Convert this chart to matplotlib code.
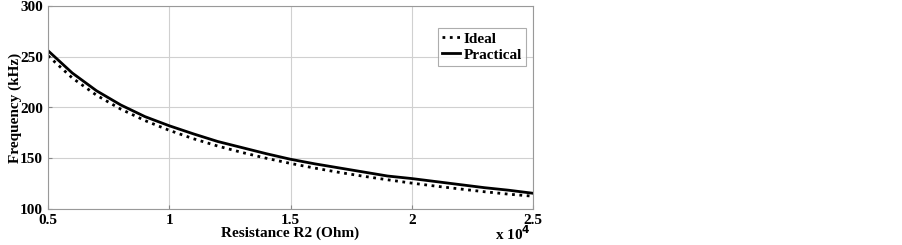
import matplotlib
matplotlib.use("Agg")
import matplotlib.pyplot as plt
from matplotlib.ticker import FuncFormatter

resistance = [5000, 6000, 7000, 8000, 9000, 10000, 11000, 12000, 13000, 14000, 15000,
              16000, 17000, 18000, 19000, 20000, 21000, 22000, 23000, 24000, 25000]
ideal = [251.0, 229.1, 212.1, 198.4, 187.1, 177.5, 169.2, 162.0, 155.7, 150.0, 144.9,
         140.3, 136.1, 132.3, 128.8, 125.5, 122.5, 119.7, 117.0, 114.6, 112.6]
practical = [256.0, 234.0, 216.5, 202.5, 191.0, 182.0, 174.0, 166.5, 160.5, 154.5, 149.0,
             144.5, 140.5, 136.5, 132.5, 130.0, 127.0, 124.0, 121.0, 118.5, 115.5]
xticks = [5000, 10000, 15000, 20000, 25000]
yticks = [100, 150, 200, 250, 300]

plt.rcParams['font.family'] = ['Liberation Serif', 'DejaVu Serif']
plt.rcParams['font.weight'] = 'bold'

fig = plt.figure(figsize=(9.03, 2.45), dpi=100)
ax = fig.add_axes([48/903, 1 - 209/245, (533-48)/903, (209-6)/245])

ax.plot(resistance, ideal, color='black', linestyle=':', linewidth=2, label='Ideal')
ax.plot(resistance, practical, color='black', linestyle='-', linewidth=2, label='Practical')

ax.set_xlim(5000, 25000)
ax.set_ylim(100, 300)
ax.set_xticks(xticks)
ax.set_yticks(yticks)
ax.xaxis.set_major_formatter(FuncFormatter(lambda v, p: f"{v/1e4:g}"))
ax.grid(True, color='#d0d0d0', linewidth=0.8)
ax.tick_params(direction='in', length=3, labelsize=11, color='#888888')
for lab in ax.get_xticklabels() + ax.get_yticklabels():
    lab.set_fontweight('bold')
for s in ax.spines.values():
    s.set_color('#999999')
    s.set_linewidth(0.8)

ax.set_xlabel('Resistance R2 (Ohm)', fontsize=11, fontweight='bold', labelpad=0)
ax.set_ylabel('Frequency (kHz)', fontsize=11, fontweight='bold', labelpad=-1)
ax.text(0.995, -0.155, r'x 10$^{\mathbf{4}}$', transform=ax.transAxes, ha='right', va='baseline',
        fontsize=11, fontweight='bold')

leg = ax.legend(loc='upper right', bbox_to_anchor=(0.985, 0.89), fontsize=11, frameon=True,
                fancybox=False, edgecolor='#999999', handlelength=1.2, handletextpad=0.2,
                borderpad=0.25, labelspacing=0.15, borderaxespad=0)
leg.get_frame().set_linewidth(0.8)
for t in leg.get_texts():
    t.set_fontweight('bold')

fig.savefig('out.png', dpi=100)
